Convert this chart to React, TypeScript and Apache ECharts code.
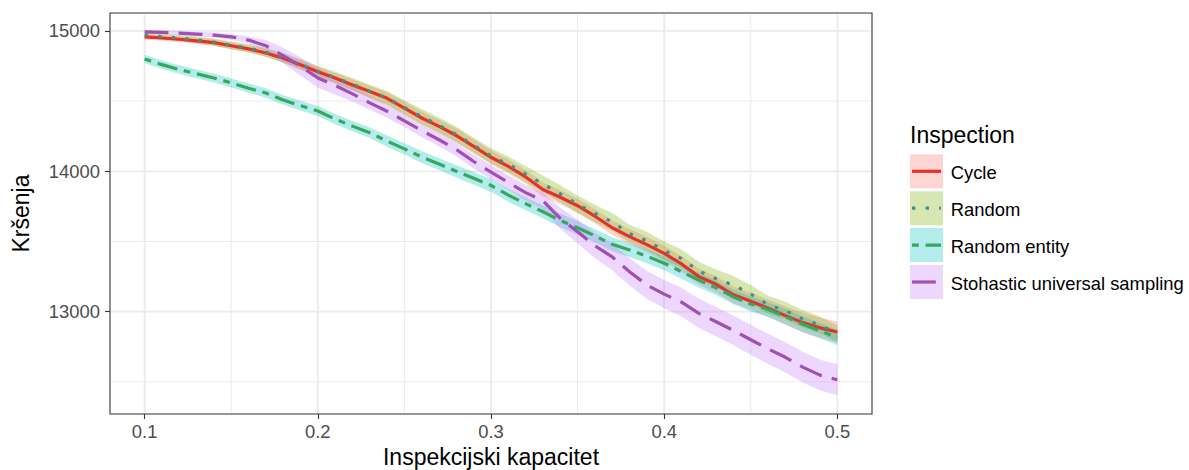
import React, { useEffect, useRef } from "react";
import * as echarts from "echarts";

// ---- data ----
const XS = [
  0.1, 0.11, 0.12, 0.13, 0.14, 0.15, 0.16, 0.17, 0.18, 0.19,
  0.2, 0.21, 0.22, 0.23, 0.24, 0.25, 0.26, 0.27, 0.28, 0.29,
  0.3, 0.31, 0.32, 0.33, 0.34, 0.35, 0.36, 0.37, 0.38, 0.39,
  0.4, 0.41, 0.42, 0.43, 0.44, 0.45, 0.46, 0.47, 0.48, 0.49, 0.5,
];

const SERIES_NAMES = ["Cycle", "Random", "Random entity", "Stohastic universal sampling"];

const CYCLE_MEAN = [
  14958, 14950, 14941, 14930, 14917, 14895, 14872, 14843, 14805, 14760,
  14710, 14665, 14615, 14568, 14520, 14450, 14380, 14320, 14255, 14178,
  14100, 14035, 13960, 13870, 13815, 13755, 13680, 13598, 13535, 13478,
  13415, 13340, 13250, 13195, 13120, 13075, 13025, 12972, 12922, 12885, 12855,
];
const CYCLE_SPREAD = [
  20, 20, 22, 22, 24, 25, 26, 28, 30, 32,
  35, 37, 40, 42, 44, 45, 46, 48, 50, 50,
  50, 50, 50, 50, 50, 50, 52, 52, 54, 55,
  55, 56, 58, 58, 60, 60, 62, 65, 70, 72, 75,
];

const RANDOM_MEAN = [
  14970, 14960, 14950, 14937, 14920, 14897, 14878, 14848, 14808, 14762,
  14712, 14668, 14620, 14570, 14522, 14455, 14390, 14328, 14262, 14185,
  14110, 14050, 13980, 13910, 13840, 13765, 13700, 13640, 13556, 13505,
  13435, 13378, 13290, 13235, 13190, 13125, 13050, 13008, 12948, 12905, 12842,
];
const RANDOM_SPREAD = [
  18, 20, 22, 24, 26, 28, 30, 32, 35, 38,
  40, 42, 45, 47, 50, 52, 54, 55, 55, 55,
  55, 56, 58, 60, 60, 62, 62, 63, 64, 65,
  65, 65, 65, 65, 65, 65, 64, 62, 62, 60, 60,
];

const RANDOM_ENTITY_MEAN = [
  14800, 14760, 14725, 14695, 14665, 14630, 14592, 14558, 14508, 14468,
  14430, 14372, 14322, 14275, 14215, 14160, 14102, 14052, 14000, 13950,
  13900, 13830, 13770, 13712, 13650, 13598, 13540, 13480, 13440, 13395,
  13345, 13285, 13225, 13170, 13105, 13055, 13015, 12965, 12910, 12865, 12815,
];
const RANDOM_ENTITY_SPREAD = [
  30, 30, 30, 31, 32, 32, 33, 33, 34, 35,
  35, 36, 37, 38, 40, 40, 42, 42, 44, 45,
  45, 46, 46, 47, 48, 48, 48, 49, 50, 50,
  50, 51, 52, 52, 52, 53, 53, 54, 55, 55, 55,
];

const SUS_MEAN = [
  14993, 14990, 14985, 14978, 14971, 14958, 14935, 14895, 14825, 14748,
  14665, 14612, 14552, 14488, 14428, 14360, 14290, 14225, 14155, 14070,
  13995, 13920, 13848, 13790, 13665, 13570, 13470, 13390, 13285, 13190,
  13125, 13068, 12988, 12928, 12866, 12800, 12735, 12675, 12605, 12548, 12515,
];
const SUS_SPREAD = [
  15, 15, 16, 17, 18, 20, 25, 40, 55, 65,
  70, 65, 55, 50, 46, 45, 45, 46, 48, 50,
  50, 52, 55, 60, 75, 85, 90, 95, 98, 100,
  100, 102, 104, 105, 105, 106, 107, 108, 110, 110, 110,
];

const X_TICKS = [0.1, 0.2, 0.3, 0.4, 0.5];
const X_MINOR_TICKS = [0.15, 0.25, 0.35, 0.45];
const Y_TICKS = [13000, 14000, 15000];
const Y_MINOR_TICKS = [12500, 13500, 14500];
const X_RANGE = [0.08, 0.52];
const Y_RANGE = [12271, 15128];

// ---- styles ----
const FONT = "'Liberation Sans', Arial, Helvetica, sans-serif";
const FILL_COLORS = ["#F8766D", "#7CAE00", "#00BFC4", "#C77CFF"];
const LINE_COLORS = ["#E4322A", "#4B8A8A", "#35A85B", "#A050B5"];
const U = 3.4;
const DASHES: any[] = [
  "solid",
  [U, 3 * U],
  [2 * U, 2 * U, 6 * U, 2 * U],
  [7 * U, 3 * U],
];
const LINE_WIDTH = 3.2;

const MEANS = [CYCLE_MEAN, RANDOM_MEAN, RANDOM_ENTITY_MEAN, SUS_MEAN];
const SPREADS = [CYCLE_SPREAD, RANDOM_SPREAD, RANDOM_ENTITY_SPREAD, SUS_SPREAD];

function gridLineSeries(values: number[], vertical: boolean, width: number) {
  return {
    type: "custom",
    silent: true,
    z: 1,
    data: values.map((v) => (vertical ? [v, Y_RANGE[0]] : [X_RANGE[0], v])),
    renderItem: (params: any, api: any) => {
      const cs = params.coordSys;
      if (vertical) {
        const x = api.coord([api.value(0), Y_RANGE[0]])[0];
        return {
          type: "line",
          shape: { x1: x, y1: cs.y + 1, x2: x, y2: cs.y + cs.height - 1 },
          style: { stroke: "#EBEBEB", lineWidth: width },
        };
      }
      const y = api.coord([X_RANGE[0], api.value(1)])[1];
      return {
        type: "line",
        shape: { x1: cs.x + 1, y1: y, x2: cs.x + cs.width - 1, y2: y },
        style: { stroke: "#EBEBEB", lineWidth: width },
      };
    },
  };
}

function ribbonSeries(i: number) {
  const mean = MEANS[i];
  const spread = SPREADS[i];
  const rows = XS.map((x, j) => [x, mean[j] - spread[j], mean[j] + spread[j]]);
  return {
    type: "custom",
    name: SERIES_NAMES[i] + " band",
    silent: true,
    z: 2,
    dimensions: ["x", "lower", "upper"],
    encode: { x: 0, y: [1, 2] },
    data: rows,
    renderItem: (params: any, api: any) => {
      if (params.dataIndex !== 0) return null;
      const upperPts = rows.map((r) => api.coord([r[0], r[2]]));
      const lowerPts = rows.map((r) => api.coord([r[0], r[1]])).reverse();
      return {
        type: "polygon",
        shape: { points: upperPts.concat(lowerPts) },
        style: { fill: FILL_COLORS[i], opacity: 0.3 },
      };
    },
  };
}

function buildOption() {
  const series: any[] = [
    gridLineSeries(X_MINOR_TICKS, true, 1),
    gridLineSeries(Y_MINOR_TICKS, false, 1),
    gridLineSeries(X_TICKS, true, 1.8),
    gridLineSeries(Y_TICKS, false, 1.8),
  ];

  SERIES_NAMES.forEach((_, i) => series.push(ribbonSeries(i)));

  SERIES_NAMES.forEach((name, i) => {
    series.push({
      type: "line",
      name,
      data: XS.map((x, j) => [x, MEANS[i][j]]),
      symbol: "none",
      showSymbol: false,
      silent: true,
      lineStyle: {
        color: LINE_COLORS[i],
        width: LINE_WIDTH,
        type: DASHES[i],
        cap: "butt",
      },
      z: 3,
    });
  });

  // legend drawn as graphic
  const keyX = 910;
  const keyY0 = 154.3;
  const pitch = 36.9;
  const keyW = 33;
  const keyH = 34;
  const graphics: any[] = [
    {
      type: "text",
      x: 910,
      y: 135,
      style: {
        text: "Inspection",
        fill: "#000",
        font: `23px ${FONT}`,
        textVerticalAlign: "middle",
        verticalAlign: "middle",
      },
    },
  ];
  SERIES_NAMES.forEach((name, i) => {
    const y = keyY0 + i * pitch;
    const cy = y + keyH / 2;
    graphics.push({
      type: "rect",
      shape: { x: keyX, y, width: keyW, height: keyH },
      style: { fill: FILL_COLORS[i], opacity: 0.3 },
    });
    graphics.push({
      type: "line",
      shape: { x1: keyX + 2, y1: cy, x2: keyX + keyW - 2, y2: cy },
      style: {
        stroke: LINE_COLORS[i],
        lineWidth: LINE_WIDTH,
        lineDash: DASHES[i] === "solid" ? null : DASHES[i],
        lineCap: "butt",
      },
    });
    graphics.push({
      type: "text",
      x: 950.7,
      y: cy + 1,
      style: {
        text: name,
        fill: "#000",
        font: `18.4px ${FONT}`,
        textVerticalAlign: "middle",
        verticalAlign: "middle",
      },
    });
  });

  return {
    animation: false,
    backgroundColor: "#ffffff",
    grid: {
      left: 110,
      top: 13,
      width: 762,
      height: 401,
      show: true,
      backgroundColor: "#ffffff",
      borderColor: "#333333",
      borderWidth: 1.1,
      containLabel: false,
      outerBoundsMode: "none",
    },
    xAxis: {
      type: "value",
      min: X_RANGE[0],
      max: X_RANGE[1],
      axisLine: { show: false },
      splitLine: { show: false },
      minorSplitLine: { show: false },
      axisTick: {
        show: true,
        customValues: X_TICKS,
        length: 5,
        lineStyle: { color: "#333333", width: 1.1 },
      },
      axisLabel: {
        customValues: X_TICKS,
        formatter: (v: number) => v.toFixed(1),
        color: "#4D4D4D",
        fontSize: 18.4,
        fontFamily: FONT,
        margin: 8,
      },
      name: "Inspekcijski kapacitet",
      nameLocation: "middle",
      nameGap: 31,
      nameTextStyle: { color: "#000", fontSize: 23, fontFamily: FONT },
    },
    yAxis: {
      type: "value",
      min: Y_RANGE[0],
      max: Y_RANGE[1],
      axisLine: { show: false },
      splitLine: { show: false },
      minorSplitLine: { show: false },
      axisTick: {
        show: true,
        customValues: Y_TICKS,
        length: 5,
        lineStyle: { color: "#333333", width: 1.1 },
      },
      axisLabel: {
        customValues: Y_TICKS,
        formatter: (v: number) => String(Math.round(v)),
        color: "#4D4D4D",
        fontSize: 18.4,
        fontFamily: FONT,
        margin: 10,
      },
      name: "Kršenja",
      nameLocation: "middle",
      nameGap: 78,
      nameTextStyle: { color: "#000", fontSize: 23, fontFamily: FONT },
    },
    series,
    graphic: graphics,
  };
}

export default function App() {
  const ref = useRef<HTMLDivElement>(null);
  useEffect(() => {
    if (!ref.current) return;
    const chart = echarts.init(ref.current, null, { renderer: "svg" });
    chart.setOption(buildOption() as any);
    return () => chart.dispose();
  }, []);
  return (
    <div
      ref={ref}
      style={{ position: "absolute", left: 0, top: 0, width: 1189, height: 470 }}
    />
  );
}
